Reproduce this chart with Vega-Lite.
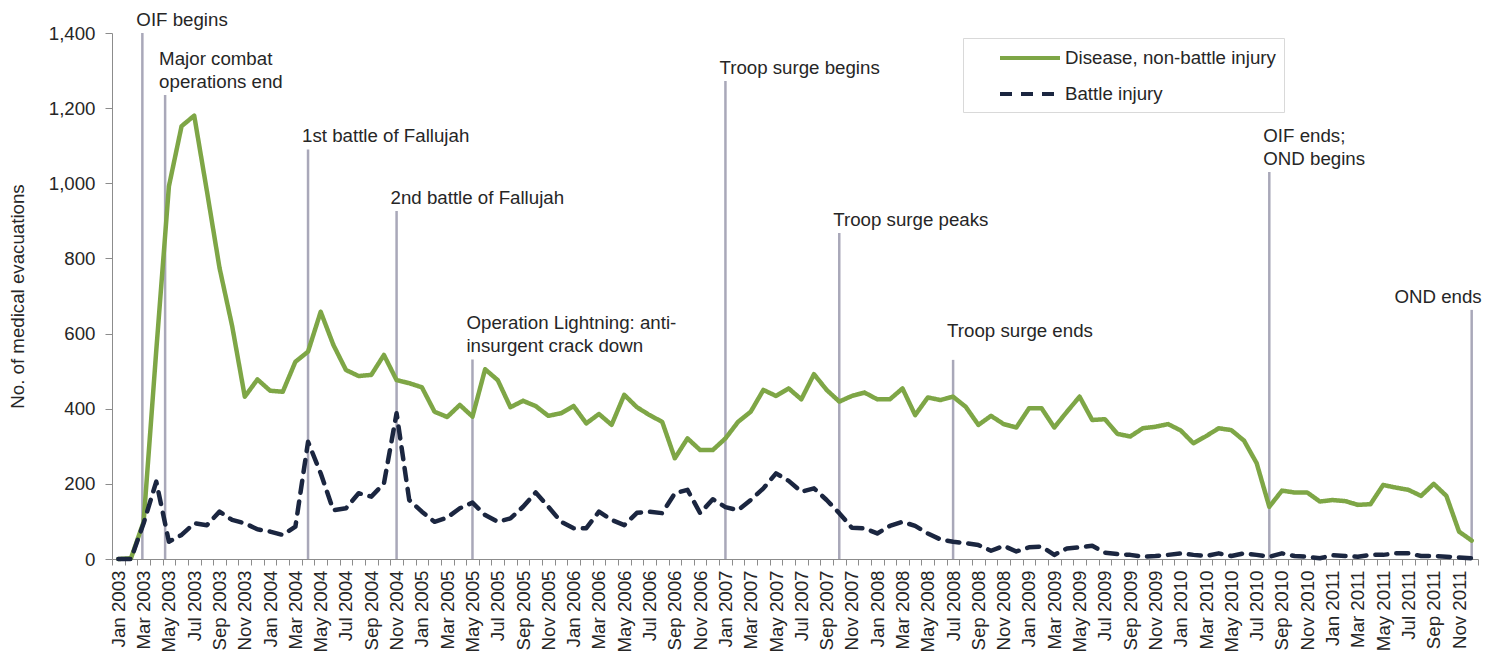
{
  "$schema": "https://vega.github.io/schema/vega-lite/v6.json",
  "width": 1366,
  "height": 526,
  "autosize": {"type": "none"},
  "padding": {"left": 112, "top": 33, "right": 18, "bottom": 97},
  "background": "white",
  "config": {
    "view": {"stroke": null},
    "font": "Liberation Sans",
    "axis": {
      "domainColor": "#8c8c8c",
      "tickColor": "#8c8c8c",
      "labelFont": "Liberation Sans",
      "titleFont": "Liberation Sans",
      "labelColor": "#262626",
      "titleColor": "#262626",
      "labelFontSize": 18.7,
      "titleFontSize": 18.7,
      "titleFontWeight": "normal",
      "grid": false
    }
  },
  "datasets": {
    "monthly": [
      {"m": "2003-01", "i": 0, "dnbi": 0, "bi": 0},
      {"m": "2003-02", "i": 1, "dnbi": 2, "bi": 0},
      {"m": "2003-03", "i": 2, "dnbi": 99, "bi": 95},
      {"m": "2003-04", "i": 3, "dnbi": 555, "bi": 206},
      {"m": "2003-05", "i": 4, "dnbi": 992, "bi": 46},
      {"m": "2003-06", "i": 5, "dnbi": 1152, "bi": 64},
      {"m": "2003-07", "i": 6, "dnbi": 1180, "bi": 95},
      {"m": "2003-08", "i": 7, "dnbi": 980, "bi": 90},
      {"m": "2003-09", "i": 8, "dnbi": 775, "bi": 126},
      {"m": "2003-10", "i": 9, "dnbi": 620, "bi": 104},
      {"m": "2003-11", "i": 10, "dnbi": 432, "bi": 95},
      {"m": "2003-12", "i": 11, "dnbi": 478, "bi": 79},
      {"m": "2004-01", "i": 12, "dnbi": 448, "bi": 73},
      {"m": "2004-02", "i": 13, "dnbi": 445, "bi": 64},
      {"m": "2004-03", "i": 14, "dnbi": 525, "bi": 86},
      {"m": "2004-04", "i": 15, "dnbi": 552, "bi": 312},
      {"m": "2004-05", "i": 16, "dnbi": 658, "bi": 228},
      {"m": "2004-06", "i": 17, "dnbi": 570, "bi": 130},
      {"m": "2004-07", "i": 18, "dnbi": 503, "bi": 135},
      {"m": "2004-08", "i": 19, "dnbi": 487, "bi": 175},
      {"m": "2004-09", "i": 20, "dnbi": 490, "bi": 166},
      {"m": "2004-10", "i": 21, "dnbi": 543, "bi": 201},
      {"m": "2004-11", "i": 22, "dnbi": 476, "bi": 388},
      {"m": "2004-12", "i": 23, "dnbi": 468, "bi": 157},
      {"m": "2005-01", "i": 24, "dnbi": 457, "bi": 126},
      {"m": "2005-02", "i": 25, "dnbi": 392, "bi": 99},
      {"m": "2005-03", "i": 26, "dnbi": 378, "bi": 110},
      {"m": "2005-04", "i": 27, "dnbi": 410, "bi": 135},
      {"m": "2005-05", "i": 28, "dnbi": 379, "bi": 150},
      {"m": "2005-06", "i": 29, "dnbi": 505, "bi": 117},
      {"m": "2005-07", "i": 30, "dnbi": 476, "bi": 99},
      {"m": "2005-08", "i": 31, "dnbi": 404, "bi": 108},
      {"m": "2005-09", "i": 32, "dnbi": 421, "bi": 139},
      {"m": "2005-10", "i": 33, "dnbi": 407, "bi": 177},
      {"m": "2005-11", "i": 34, "dnbi": 381, "bi": 139},
      {"m": "2005-12", "i": 35, "dnbi": 388, "bi": 99},
      {"m": "2006-01", "i": 36, "dnbi": 407, "bi": 82},
      {"m": "2006-02", "i": 37, "dnbi": 361, "bi": 82},
      {"m": "2006-03", "i": 38, "dnbi": 386, "bi": 126},
      {"m": "2006-04", "i": 39, "dnbi": 357, "bi": 104},
      {"m": "2006-05", "i": 40, "dnbi": 437, "bi": 90},
      {"m": "2006-06", "i": 41, "dnbi": 404, "bi": 123},
      {"m": "2006-07", "i": 42, "dnbi": 383, "bi": 126},
      {"m": "2006-08", "i": 43, "dnbi": 365, "bi": 122},
      {"m": "2006-09", "i": 44, "dnbi": 268, "bi": 175},
      {"m": "2006-10", "i": 45, "dnbi": 321, "bi": 184},
      {"m": "2006-11", "i": 46, "dnbi": 290, "bi": 122},
      {"m": "2006-12", "i": 47, "dnbi": 290, "bi": 159},
      {"m": "2007-01", "i": 48, "dnbi": 321, "bi": 138},
      {"m": "2007-02", "i": 49, "dnbi": 365, "bi": 130},
      {"m": "2007-03", "i": 50, "dnbi": 392, "bi": 157},
      {"m": "2007-04", "i": 51, "dnbi": 450, "bi": 188},
      {"m": "2007-05", "i": 52, "dnbi": 434, "bi": 228},
      {"m": "2007-06", "i": 53, "dnbi": 454, "bi": 208},
      {"m": "2007-07", "i": 54, "dnbi": 425, "bi": 179},
      {"m": "2007-08", "i": 55, "dnbi": 492, "bi": 188},
      {"m": "2007-09", "i": 56, "dnbi": 450, "bi": 157},
      {"m": "2007-10", "i": 57, "dnbi": 419, "bi": 122},
      {"m": "2007-11", "i": 58, "dnbi": 434, "bi": 83},
      {"m": "2007-12", "i": 59, "dnbi": 443, "bi": 82},
      {"m": "2008-01", "i": 60, "dnbi": 425, "bi": 68},
      {"m": "2008-02", "i": 61, "dnbi": 425, "bi": 88},
      {"m": "2008-03", "i": 62, "dnbi": 454, "bi": 99},
      {"m": "2008-04", "i": 63, "dnbi": 383, "bi": 88},
      {"m": "2008-05", "i": 64, "dnbi": 430, "bi": 68},
      {"m": "2008-06", "i": 65, "dnbi": 423, "bi": 52},
      {"m": "2008-07", "i": 66, "dnbi": 432, "bi": 46},
      {"m": "2008-08", "i": 67, "dnbi": 405, "bi": 42},
      {"m": "2008-09", "i": 68, "dnbi": 357, "bi": 37},
      {"m": "2008-10", "i": 69, "dnbi": 381, "bi": 22},
      {"m": "2008-11", "i": 70, "dnbi": 359, "bi": 35},
      {"m": "2008-12", "i": 71, "dnbi": 350, "bi": 20},
      {"m": "2009-01", "i": 72, "dnbi": 401, "bi": 31},
      {"m": "2009-02", "i": 73, "dnbi": 401, "bi": 33},
      {"m": "2009-03", "i": 74, "dnbi": 350, "bi": 11},
      {"m": "2009-04", "i": 75, "dnbi": 392, "bi": 28},
      {"m": "2009-05", "i": 76, "dnbi": 432, "bi": 31},
      {"m": "2009-06", "i": 77, "dnbi": 370, "bi": 35},
      {"m": "2009-07", "i": 78, "dnbi": 372, "bi": 17},
      {"m": "2009-08", "i": 79, "dnbi": 333, "bi": 13},
      {"m": "2009-09", "i": 80, "dnbi": 326, "bi": 11},
      {"m": "2009-10", "i": 81, "dnbi": 348, "bi": 6},
      {"m": "2009-11", "i": 82, "dnbi": 352, "bi": 8},
      {"m": "2009-12", "i": 83, "dnbi": 359, "bi": 11},
      {"m": "2010-01", "i": 84, "dnbi": 342, "bi": 15},
      {"m": "2010-02", "i": 85, "dnbi": 308, "bi": 11},
      {"m": "2010-03", "i": 86, "dnbi": 327, "bi": 8},
      {"m": "2010-04", "i": 87, "dnbi": 348, "bi": 15},
      {"m": "2010-05", "i": 88, "dnbi": 343, "bi": 8},
      {"m": "2010-06", "i": 89, "dnbi": 315, "bi": 15},
      {"m": "2010-07", "i": 90, "dnbi": 255, "bi": 11},
      {"m": "2010-08", "i": 91, "dnbi": 139, "bi": 6},
      {"m": "2010-09", "i": 92, "dnbi": 182, "bi": 15},
      {"m": "2010-10", "i": 93, "dnbi": 177, "bi": 8},
      {"m": "2010-11", "i": 94, "dnbi": 177, "bi": 6},
      {"m": "2010-12", "i": 95, "dnbi": 153, "bi": 2},
      {"m": "2011-01", "i": 96, "dnbi": 157, "bi": 10},
      {"m": "2011-02", "i": 97, "dnbi": 154, "bi": 8},
      {"m": "2011-03", "i": 98, "dnbi": 144, "bi": 6},
      {"m": "2011-04", "i": 99, "dnbi": 146, "bi": 11},
      {"m": "2011-05", "i": 100, "dnbi": 197, "bi": 11},
      {"m": "2011-06", "i": 101, "dnbi": 190, "bi": 15},
      {"m": "2011-07", "i": 102, "dnbi": 184, "bi": 15},
      {"m": "2011-08", "i": 103, "dnbi": 168, "bi": 8},
      {"m": "2011-09", "i": 104, "dnbi": 200, "bi": 8},
      {"m": "2011-10", "i": 105, "dnbi": 168, "bi": 6},
      {"m": "2011-11", "i": 106, "dnbi": 73, "bi": 4},
      {"m": "2011-12", "i": 107, "dnbi": 49, "bi": 2}
    ],
    "events": [
      {"i": 1.9, "n": 1400, "label": "OIF begins"},
      {"i": 3.7, "n": 1235, "label": "Major combat\noperations end"},
      {"i": 15, "n": 1090, "label": "1st battle of Fallujah"},
      {"i": 22, "n": 926, "label": "2nd battle of Fallujah"},
      {"i": 28, "n": 531, "label": "Operation Lightning: anti-\ninsurgent crack down"},
      {"i": 48, "n": 1272, "label": "Troop surge begins"},
      {"i": 57, "n": 868, "label": "Troop surge peaks"},
      {"i": 66, "n": 530, "label": "Troop surge ends"},
      {"i": 91, "n": 1030, "label": "OIF ends;\nOND begins"},
      {"i": 107, "n": 663, "label": "OND ends"}
    ]
  },
  "encoding": {
    "x": {
      "field": "i", "type": "quantitative",
      "scale": {"domain": [-0.5, 107.5], "nice": false, "zero": false},
      "axis": {
        "title": null,
        "values": [-0.5,0.5,1.5,2.5,3.5,4.5,5.5,6.5,7.5,8.5,9.5,10.5,11.5,12.5,13.5,14.5,15.5,16.5,17.5,18.5,19.5,20.5,21.5,22.5,23.5,24.5,25.5,26.5,27.5,28.5,29.5,30.5,31.5,32.5,33.5,34.5,35.5,36.5,37.5,38.5,39.5,40.5,41.5,42.5,43.5,44.5,45.5,46.5,47.5,48.5,49.5,50.5,51.5,52.5,53.5,54.5,55.5,56.5,57.5,58.5,59.5,60.5,61.5,62.5,63.5,64.5,65.5,66.5,67.5,68.5,69.5,70.5,71.5,72.5,73.5,74.5,75.5,76.5,77.5,78.5,79.5,80.5,81.5,82.5,83.5,84.5,85.5,86.5,87.5,88.5,89.5,90.5,91.5,92.5,93.5,94.5,95.5,96.5,97.5,98.5,99.5,100.5,101.5,102.5,103.5,104.5,105.5,106.5,107.5],
        "labelExpr": "(datum.value + 0.5) % 2 == 0 && datum.value < 107 ? ['Jan','Feb','Mar','Apr','May','Jun','Jul','Aug','Sep','Oct','Nov','Dec'][(datum.value + 0.5) % 12] + ' ' + (2003 + floor((datum.value + 0.5) / 12)) : ''",
        "labelAngle": -90,
        "labelOffset": 6.32,
        "labelOverlap": false,
        "labelFlush": false,
        "labelBound": false,
        "labelPadding": 5,
        "tickSize": 6
      }
    },
    "y": {
      "field": "n", "type": "quantitative",
      "scale": {"domain": [0, 1400], "nice": false},
      "axis": {
        "title": "No. of medical evacuations",
        "values": [0, 200, 400, 600, 800, 1000, 1200, 1400],
        "format": ",.0f",
        "tickSize": 7,
        "labelPadding": 10,
        "titlePadding": 21
      }
    }
  },
  "layer": [
    {
      "data": {"name": "events"},
      "mark": {"type": "rule", "color": "#a9a8b9", "strokeWidth": 2.5},
      "encoding": {
        "y2": {"datum": 0}
      }
    },
    {
      "data": {"name": "monthly"},
      "transform": [{"fold": ["dnbi", "bi"], "as": ["series", "n"]}],
      "mark": {"type": "line", "strokeWidth": 4.5, "strokeCap": "round", "strokeJoin": "round"},
      "encoding": {
        "color": {
          "field": "series", "type": "nominal",
          "scale": {"domain": ["dnbi", "bi"], "range": ["#7ea646", "#1b2640"]},
          "legend": {
            "orient": "none", "legendX": 851, "legendY": 5, "title": null,
            "strokeColor": "#d9d9d9", "fillColor": "white", "padding": 8,
            "symbolType": "M-3,0H3", "symbolSize": 400, "symbolStrokeWidth": 4,
            "symbolOffset": 47, "labelOffset": 23, "rowPadding": 14,
            "labelFontSize": 18.7, "labelColor": "#262626", "labelFont": "Liberation Sans", "labelLimit": 400,
            "labelExpr": "datum.label == 'dnbi' ? 'Disease, non-battle injury' : 'Battle injury'"
          }
        },
        "strokeDash": {
          "field": "series", "type": "nominal",
          "scale": {"domain": ["dnbi", "bi"], "range": [[1, 0], [12, 9]]},
          "legend": {
            "orient": "none", "legendX": 851, "legendY": 5, "title": null,
            "strokeColor": "#d9d9d9", "fillColor": "white", "padding": 8,
            "symbolType": "M-3,0H3", "symbolSize": 400, "symbolStrokeWidth": 4,
            "symbolOffset": 47, "labelOffset": 23, "rowPadding": 14,
            "labelFontSize": 18.7, "labelColor": "#262626", "labelFont": "Liberation Sans", "labelLimit": 400,
            "labelExpr": "datum.label == 'dnbi' ? 'Disease, non-battle injury' : 'Battle injury'"
          }
        }
      }
    },
    {
      "data": {"name": "events"},
      "transform": [{"filter": "datum.label != 'OND ends' && datum.label != 'Troop surge ends' && indexof(datum.label, '\\n') < 0"}],
      "mark": {"type": "text", "align": "left", "baseline": "bottom", "dx": -6, "dy": -3, "fontSize": 18.7, "font": "Liberation Sans", "color": "#262626"},
      "encoding": {
        "text": {"field": "label"}
      }
    },
    {
      "data": {"name": "events"},
      "transform": [{"filter": "datum.label == 'Troop surge ends'"}],
      "mark": {"type": "text", "align": "left", "baseline": "bottom", "dx": -6, "dy": -19, "fontSize": 18.7, "font": "Liberation Sans", "color": "#262626"},
      "encoding": {
        "text": {"field": "label"}
      }
    },
    {
      "data": {"name": "events"},
      "transform": [{"filter": "indexof(datum.label, '\\n') >= 0"}],
      "mark": {"type": "text", "align": "left", "baseline": "bottom", "dx": -6, "dy": -26, "fontSize": 18.7, "font": "Liberation Sans", "color": "#262626", "lineBreak": "\n", "lineHeight": 23},
      "encoding": {
        "text": {"field": "label"}
      }
    },
    {
      "data": {"name": "events"},
      "transform": [{"filter": "datum.label == 'OND ends'"}],
      "mark": {"type": "text", "align": "right", "baseline": "bottom", "dx": 10, "dy": -3, "fontSize": 18.7, "font": "Liberation Sans", "color": "#262626"},
      "encoding": {
        "text": {"field": "label"}
      }
    }
  ]
}
